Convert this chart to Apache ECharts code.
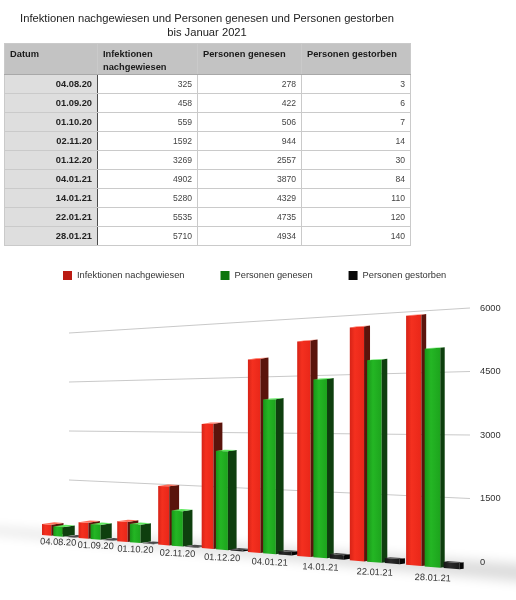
<!DOCTYPE html>
<html>
<head>
<meta charset="utf-8">
<script src="https://cdn.jsdelivr.net/npm/echarts@6/dist/echarts.min.js"></script>
<style>
  html, body { margin: 0; padding: 0; background: #fff; }
  body { width: 516px; height: 600px; position: relative; overflow: hidden;
         font-family: "Liberation Sans", Arial, sans-serif; }
  #chart { position: absolute; left: 0; top: 0; width: 516px; height: 600px; }
  #title { position: absolute; left: 4px; top: 11px; width: 406px; text-align: center;
           font-size: 11.2px; line-height: 14px; color: #222; z-index: 2; }
  #tbl { position: absolute; left: 4px; top: 43px; z-index: 2; border-collapse: collapse;
         table-layout: fixed; width: 406px; }
  #tbl th, #tbl td { border: 1px solid #cacaca; padding: 0 5px; overflow: hidden; white-space: nowrap; }
  #tbl th { background: #c3c3c3; text-align: left; vertical-align: top; font-weight: bold;
            font-size: 9.3px; line-height: 13px; padding-top: 4px; color: #1a1a1a; white-space: normal;
            border-bottom-color: #a8a8a8; }
  #tbl tr.head { height: 30px; }
  #tbl tr.row { height: 19px; }
  #tbl td.date { background: #dedede; font-weight: bold; text-align: right; font-size: 9.3px;
                 color: #222; border-right: 1px solid #4d4d4d; }
  #tbl td.num { text-align: right; font-size: 8.6px; color: #444; background: #fff; }
</style>
</head>
<body>
<div id="chart"></div>
<div id="title">Infektionen nachgewiesen und Personen genesen und Personen gestorben<br>bis Januar 2021</div>
<table id="tbl">
  <colgroup><col style="width:93px"><col style="width:100px"><col style="width:104px"><col style="width:109px"></colgroup>
  <tbody id="tbody"></tbody>
</table>
<script>
// Daten
const categories = ['04.08.20', '01.09.20', '01.10.20', '02.11.20', '01.12.20', '04.01.21', '14.01.21', '22.01.21', '28.01.21']
const infektionen = [325, 458, 559, 1592, 3269, 4902, 5280, 5535, 5710]
const genesen = [278, 422, 506, 944, 2557, 3870, 4329, 4735, 4934]
const gestorben = [3, 6, 7, 14, 30, 84, 110, 120, 140]
const yTicks = [1500, 3000, 4500, 6000]
const seriesNames = ['Infektionen nachgewiesen', 'Personen genesen', 'Personen gestorben']
const tableHead = ['Datum', 'Infektionen nachgewiesen', 'Personen genesen', 'Personen gestorben']

const FONT = '"Liberation Sans", Arial, sans-serif'

// table
var tb = document.getElementById('tbody')
var html = '<tr class="head">'
tableHead.forEach(h => { html += '<th>' + h + '</th>' })
html += '</tr>'
categories.forEach((c, i) => {
  html += '<tr class="row"><td class="date">' + c + '</td><td class="num">' + infektionen[i] +
    '</td><td class="num">' + genesen[i] + '</td><td class="num">' + gestorben[i] + '</td></tr>'
})
tb.innerHTML = html

// perspective of the 3D chart
const A0 = 0.1, PITCH = 0.315, BW = 0.26
function projX(u) {
  var t = u - A0
  return 42 + 35.55 * t / (1 - 0.02736 * t)
}
function frontY(X, ny) {
  return 535 + (X - 42) * 0.082 - ny * (201.6 + (X - 42) * 0.165)
}
function wallY(X, ny, cs) {
  var t = (X - cs.x) / cs.width
  return cs.y + cs.height - 33 * (1 - t) - ny * (cs.height - 58 * (1 - t))
}
function toU(px, cs) { return (px - cs.x) / cs.width * categories.length }
function toNy(py, cs) { return (cs.y + cs.height - py) / cs.height }

const barColors = [
  { front: [['0', '#d62317'], ['0.35', '#f4301f'], ['1', '#e92719']], side: '#5a140c', top: '#ff6d58' },
  { front: [['0', '#199619'], ['0.4', '#24b624'], ['1', '#1da41d']], side: '#0e3f0e', top: '#5ee85e' },
  { front: [['0', '#151515'], ['0.4', '#2a2a2a'], ['1', '#1a1a1a']], side: '#050505', top: '#4a4a4a' }
]

function barRender(s) {
  return function (params, api) {
    var cs = params.coordSys
    var i = api.value(0)
    var c = api.coord([i, api.value(1)])
    var bw = api.size([1, 0])[0]
    var lpx = c[0] + (A0 + s * PITCH - 0.5) * bw
    var rpx = lpx + BW * bw
    var ny = toNy(c[1], cs)
    var xl = projX(toU(lpx, cs)), xr = projX(toU(rpx, cs))
    var ylT = frontY(xl, ny), ylB = frontY(xl, 0)
    var yrT = frontY(xr, ny), yrB = frontY(xr, 0)
    var d = 12.4 - (xr - 42) * 0.02
    var dy = -0.15 * d
    var col = barColors[s]
    var z = i * 10 + s * 3
    return {
      type: 'group',
      children: [
        {
          type: 'polygon', z2: z,
          shape: { points: [[xl, ylB], [xl, ylT], [xr, yrT], [xr, yrB]] },
          style: {
            fill: {
              type: 'linear', x: 0, y: 0, x2: 1, y2: 0,
              colorStops: col.front.map(cs => ({ offset: +cs[0], color: cs[1] }))
            }
          }
        },
        {
          type: 'polygon', z2: z + 1,
          shape: { points: [[xr, yrB], [xr, yrT], [xr + d, yrT + dy], [xr + d, yrB + dy]] },
          style: { fill: col.side }
        },
        {
          type: 'polygon', z2: z + 2,
          shape: { points: [[xl, ylT], [xr, yrT], [xr + d, yrT + dy], [xl + d, ylT + dy]] },
          style: { fill: col.top }
        }
      ]
    }
  }
}

function gridRender(params, api) {
  var cs = params.coordSys
  var c = api.coord([0, api.value(1)])
  var ny = toNy(c[1], cs)
  return {
    type: 'line',
    shape: { x1: cs.x, y1: wallY(cs.x, ny, cs), x2: cs.x + cs.width, y2: c[1] },
    style: { stroke: '#c9c9c9', lineWidth: 1.2 }
  }
}

function labelRender(params, api) {
  var cs = params.coordSys
  var c = api.coord([api.value(0), 0])
  var X = projX(toU(c[0], cs) + 0.05)
  var Y = frontY(X, 0) + 6 + (X - 58) * 0.0134
  return {
    type: 'text',
    x: X, y: Y, rotation: -0.04,
    style: {
      text: categories[params.dataIndex], fill: '#333', fontSize: 9.3, fontFamily: FONT,
      align: 'center', verticalAlign: 'middle'
    }
  }
}

function shadowRender(params, api) {
  var xs = [-30, 60, 160, 260, 360, 460, 560]
  var up = xs.map(X => [X, frontY(X, 0) - 3 - X * 0.014 - 2000])
  var lo = xs.slice().reverse().map(X => [X, frontY(X, 0) + 2 + X * 0.01 - 2000])
  return {
    type: 'polygon',
    shape: { points: up.concat(lo) },
    style: { fill: '#000', shadowColor: 'rgba(0,0,0,0.14)', shadowBlur: 12, shadowOffsetY: 2000 }
  }
}

var chart = echarts.init(document.getElementById('chart'), null, { renderer: 'canvas' })
var option = {
  animation: false,
  textStyle: { fontFamily: FONT },
  color: ['#bb1b12', '#0c760c', '#080808'],
  legend: {
    data: seriesNames,
    left: 63, top: 271, padding: 0,
    itemWidth: 9, itemHeight: 9, itemGap: 36,
    icon: 'rect',
    selectedMode: false,
    textStyle: { fontSize: 9.3, color: '#333', fontFamily: FONT }
  },
  grid: { left: 69, right: 46, top: 308, bottom: 38 },
  xAxis: { type: 'category', data: categories, show: false },
  yAxis: {
    type: 'value', position: 'right', min: 0, max: 6000, interval: 1500,
    axisLine: { show: false }, axisTick: { show: false }, splitLine: { show: false },
    axisLabel: { fontSize: 9.3, color: '#333', margin: 10, fontFamily: FONT, formatter: v => String(v) }
  },
  series: [
    { type: 'custom', z: 1, silent: true, data: [[0, 0]], renderItem: shadowRender },
    { type: 'custom', z: 1, silent: true, data: yTicks.map(v => [0, v]), renderItem: gridRender },
    { type: 'custom', name: seriesNames[0], z: 2, itemStyle: { color: '#bb1b12' },
      data: infektionen.map((v, i) => [i, v]), renderItem: barRender(0) },
    { type: 'custom', name: seriesNames[1], z: 2, itemStyle: { color: '#0c760c' },
      data: genesen.map((v, i) => [i, v]), renderItem: barRender(1) },
    { type: 'custom', name: seriesNames[2], z: 2, itemStyle: { color: '#080808' },
      data: gestorben.map((v, i) => [i, v]), renderItem: barRender(2) },
    { type: 'custom', z: 3, silent: true, data: categories.map((c, i) => [i, 0]), renderItem: labelRender }
  ]
}
chart.setOption(option)
</script>
</body>
</html>
